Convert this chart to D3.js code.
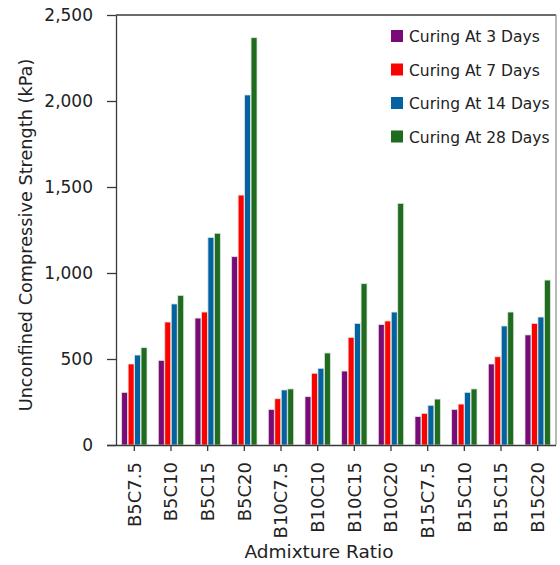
<!DOCTYPE html>
<html>
<head>
<meta charset="utf-8">
<script src="https://cdn.jsdelivr.net/npm/d3@7"></script>
<style>
  body { margin: 0; background: #fff; }
  svg { display: block; font-family: "DejaVu Sans", Verdana, sans-serif; }
</style>
</head>
<body>
<svg id="canvas" width="560" height="565"></svg>
<script>
// admixture ratios along the x axis
var categories = ["B5C7.5", "B5C10", "B5C15", "B5C20", "B10C7.5", "B10C10",
                  "B10C15", "B10C20", "B15C7.5", "B15C10", "B15C15", "B15C20"];
var seriesNames = ["Curing At 3 Days", "Curing At 7 Days", "Curing At 14 Days", "Curing At 28 Days"];
var seriesColors = ["#7a0a78", "#ff0000", "#0462a0", "#1f6b1f"];

// strength in kPa
var days3  = [306, 492, 738, 1095, 207, 281, 430, 700, 165, 207, 471, 640];
var days7  = [471, 715, 773, 1453, 269, 417, 626, 721, 184, 238, 513, 707];
var days14 = [523, 820, 1207, 2035, 320, 446, 707, 773, 231, 306, 692, 744];
var days28 = [566, 870, 1231, 2368, 326, 535, 938, 1405, 267, 326, 773, 959];

var yTicks = [0, 500, 1000, 1500, 2000, 2500];

function draw() {
    "use strict";

    var series = [days3, days7, days14, days28];
    var left = 116, right = 556, top = 15, bottom = 445;

    var svg = d3.select(document.getElementById('canvas'));

    var x0 = d3.scaleBand()
        .domain(categories)
        .range([left, right])
        .paddingInner(0.28)
        .paddingOuter(0.14);

    var x1 = d3.scaleBand()
        .domain(d3.range(series.length))
        .range([0, x0.bandwidth()])
        .padding(0.08);

    var y = d3.scaleLinear()
        .domain([0, 2500])
        .range([bottom, top]);

    // frame: top and right borders
    svg.append('line')
        .attr('x1', left).attr('x2', right)
        .attr('y1', top).attr('y2', top)
        .attr('stroke', '#3a3a3a').attr('stroke-width', 1.3);
    svg.append('line')
        .attr('x1', right).attr('x2', right)
        .attr('y1', top).attr('y2', bottom)
        .attr('stroke', '#8a8a8a').attr('stroke-width', 1.2);

    // bars
    var groups = svg.selectAll('g.grp')
        .data(categories)
        .enter().append('g')
        .attr('class', 'grp')
        .attr('transform', function(d) { return 'translate(' + x0(d) + ',0)'; });

    groups.selectAll('rect')
        .data(function(d, i) {
            return series.map(function(s, k) { return {k: k, v: s[i]}; });
        })
        .enter().append('rect')
        .attr('x', function(d) { return x1(d.k); })
        .attr('width', x1.bandwidth())
        .attr('y', function(d) { return y(d.v); })
        .attr('height', function(d) { return bottom - y(d.v); })
        .attr('fill', function(d) { return seriesColors[d.k]; })
        .attr('stroke', '#dde6dd')
        .attr('stroke-width', 0.8);

    // y axis
    var yAxis = svg.append('g')
        .attr('transform', 'translate(' + left + ',0)')
        .call(d3.axisLeft(y)
            .tickValues(yTicks)
            .tickFormat(d3.format(','))
            .tickSize(9)
            .tickSizeOuter(0)
            .tickPadding(14));
    yAxis.selectAll('line, path').attr('stroke', '#3a3a3a').attr('stroke-width', 1.3);
    yAxis.selectAll('text').attr('font-size', 17).attr('fill', '#222')
        .attr('font-family', '"DejaVu Sans", sans-serif');

    // x axis
    var xAxis = svg.append('g')
        .attr('transform', 'translate(0,' + bottom + ')')
        .call(d3.axisBottom(x0).tickSize(6).tickSizeOuter(0));
    xAxis.select('path').attr('d', 'M' + (left - 9) + ',0.5H' + right);
    xAxis.selectAll('line, path').attr('stroke', '#3a3a3a').attr('stroke-width', 1.3);
    xAxis.selectAll('text')
        .attr('font-size', 18).attr('fill', '#222')
        .attr('font-family', '"DejaVu Sans", sans-serif')
        .attr('text-anchor', 'end')
        .attr('transform', 'rotate(-90)')
        .attr('x', -17)
        .attr('y', 0)
        .attr('dy', '0.35em');

    // axis titles
    svg.append('text')
        .attr('x', 319).attr('y', 558)
        .attr('text-anchor', 'middle')
        .attr('font-size', 18.5).attr('fill', '#222')
        .text('Admixture Ratio');

    svg.append('text')
        .attr('transform', 'translate(32,235) rotate(-90)')
        .attr('text-anchor', 'middle')
        .attr('font-size', 17.7).attr('fill', '#222')
        .text('Unconfined Compressive Strength (kPa)');

    // legend
    var legend = svg.selectAll('g.leg')
        .data(seriesNames)
        .enter().append('g')
        .attr('class', 'leg')
        .attr('transform', function(d, i) { return 'translate(391,' + (30 + i * 33.5) + ')'; });
    legend.append('rect')
        .attr('width', 12).attr('height', 12)
        .attr('fill', function(d, i) { return seriesColors[i]; });
    legend.append('text')
        .attr('x', 18).attr('y', 7)
        .attr('dy', '0.35em')
        .attr('font-size', 15.5).attr('fill', '#222')
        .text(function(d) { return d; });
}

draw();
</script>
</body>
</html>
